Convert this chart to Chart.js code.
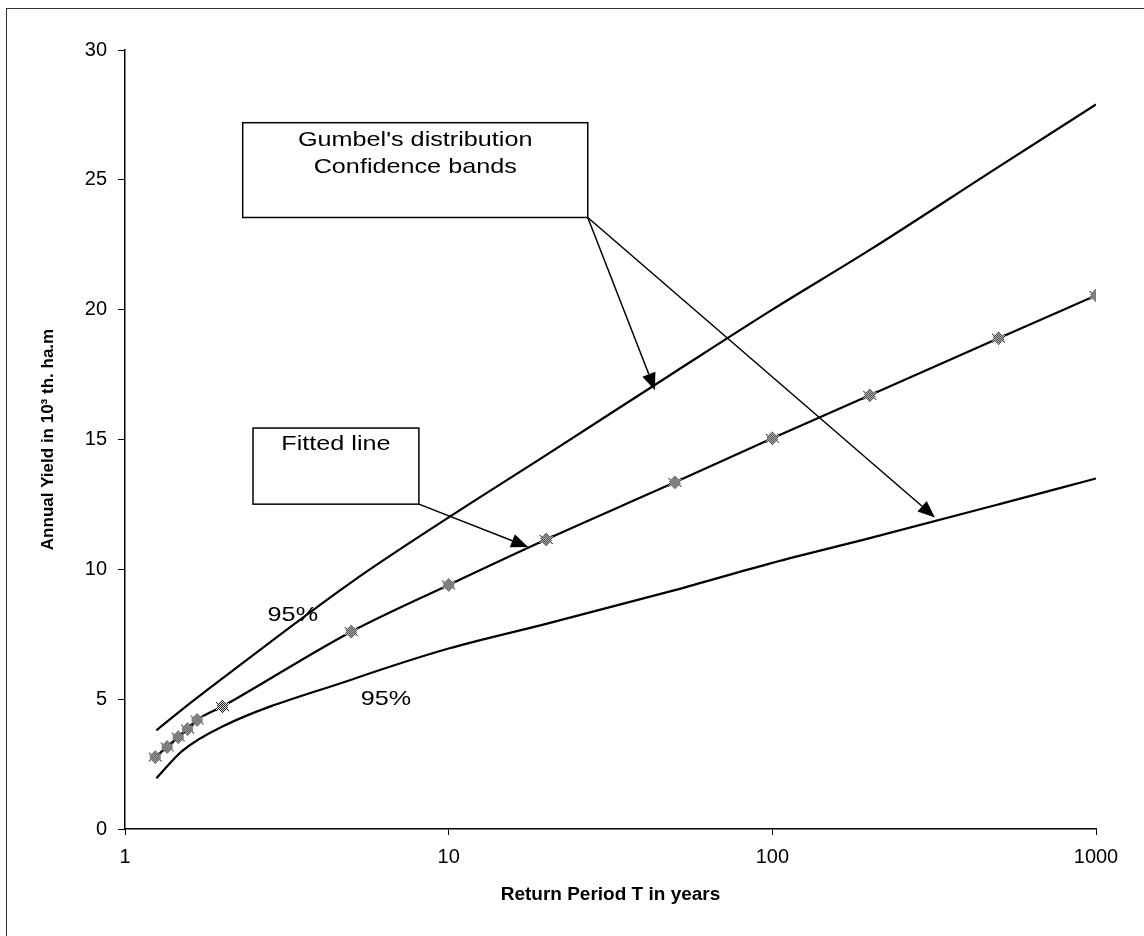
<!DOCTYPE html>
<html>
<head>
<meta charset="utf-8">
<title>Gumbel's distribution</title>
<script src="https://cdn.jsdelivr.net/npm/chart.js@4.4.1/dist/chart.umd.min.js"></script>
<style>
	html, body { margin: 0; padding: 0; background: #fff; }
	#wrap { position: relative; width: 1144px; height: 936px; }
	#frame {
		position: absolute; left: 6px; top: 8px; right: 0; bottom: 0;
		border-left: 1px solid #333; border-top: 1px solid #333;
		pointer-events: none;
	}
</style>
</head>
<body>
<div id="wrap">
	<canvas id="yieldChart"></canvas>
	<div id="frame"></div>
</div>
<script>
// Return periods (years) and annual yield values
const returnPeriods = [1.24, 1.35, 1.46, 1.56, 1.67, 2, 5, 10, 20, 50, 100, 200, 500, 1000];
const fittedYield = [2.77, 3.16, 3.54, 3.85, 4.2, 4.72, 7.6, 9.4, 11.15, 13.35, 15.05, 16.7, 18.9, 20.55];

const bandPeriods = [1.25, 1.5, 2, 5, 10, 20, 50, 100, 200, 500, 1000];
const upperBand = [3.8, 4.6, 5.8, 9.5, 12.0, 14.4, 17.6, 20.0, 22.3, 25.5, 27.9];
const lowerBand = [1.95, 3.0, 3.95, 5.75, 6.95, 7.9, 9.2, 10.25, 11.2, 12.5, 13.5];

const xTicks = [1, 10, 100, 1000];
const yTicks = [0, 5, 10, 15, 20, 25, 30];

const FONT = '"Liberation Sans", Arial, sans-serif';

class YieldChartPage {
	constructor() {
		this.canvas = document.getElementById('yieldChart');
		this.init();
	}

	init() {
		this.marker = this.createMarker();
		new Chart(this.canvas.getContext('2d'), this.buildConfig());
	}

	// Dithered grey star like the scanned marker
	createMarker() {
		const size = 17;
		const mid = size / 2;
		const c = document.createElement('canvas');
		c.width = size;
		c.height = size;
		const g = c.getContext('2d');
		g.beginPath();
		for (let i = 0; i < 12; i++) {
			const a = -Math.PI / 2 + i * Math.PI / 6;
			const r = i % 2 === 0 ? 8.2 : 4.4;
			g.lineTo(mid + r * Math.cos(a), mid + r * Math.sin(a));
		}
		g.closePath();
		g.fillStyle = '#000';
		g.fill();
		const img = g.getImageData(0, 0, size, size);
		for (let py = 0; py < size; py++) {
			for (let px = 0; px < size; px++) {
				const k = (py * size + px) * 4;
				if (img.data[k + 3] < 110) {
					img.data[k + 3] = 0;
					continue;
				}
				const on = (px + py) % 2 === 0;
				img.data[k] = img.data[k + 1] = img.data[k + 2] = on ? 0 : 255;
				img.data[k + 3] = 255;
			}
		}
		g.putImageData(img, 0, 0);
		return c;
	}

	buildConfig() {
		const toPoints = (xs, ys) => xs.map((t, i) => ({ x: t, y: ys[i] }));

		const lineBase = {
			borderColor: '#000',
			borderWidth: 2.2,
			fill: false,
			cubicInterpolationMode: 'monotone',
			pointRadius: 0
		};

		return {
			type: 'line',
			data: {
				datasets: [
					{ ...lineBase, label: 'Upper 95%', data: toPoints(bandPeriods, upperBand) },
					{ ...lineBase, label: 'Lower 95%', data: toPoints(bandPeriods, lowerBand) },
					{
						...lineBase,
						label: 'Fitted line',
						data: toPoints(returnPeriods, fittedYield),
						pointStyle: this.marker,
						pointRadius: 8
					}
				]
			},
			options: {
				responsive: true,
				maintainAspectRatio: false,
				animation: false,
				layout: { padding: { left: 0, top: 50, right: 48, bottom: 0 } },
				plugins: {
					legend: { display: false },
					tooltip: { enabled: false }
				},
				scales: {
					x: {
						type: 'logarithmic',
						min: 1,
						max: 1000,
						afterBuildTicks: (scale) => {
							scale.ticks = xTicks.map(v => ({ value: v }));
						},
						afterFit: (scale) => { scale.height = 107; },
						grid: { drawOnChartArea: false, drawTicks: true, tickLength: 6, color: '#000' },
						border: { display: true, color: '#000', width: 1.5 },
						ticks: {
							autoSkip: false,
							maxRotation: 0,
							padding: 10,
							color: '#000',
							font: { family: FONT, size: 20 },
							callback: (v) => String(v)
						},
						title: {
							display: true,
							text: 'Return Period T in years',
							color: '#000',
							font: { family: FONT, size: 19, weight: 'bold' },
							padding: { top: 0, bottom: 30 }
						}
					},
					y: {
						min: 0,
						max: 30,
						afterBuildTicks: (scale) => {
							scale.ticks = yTicks.map(v => ({ value: v }));
						},
						afterFit: (scale) => { scale.width = 125; },
						grid: { drawOnChartArea: false, drawTicks: true, tickLength: 7, color: '#000' },
						border: { display: true, color: '#000', width: 1.5 },
						ticks: {
							padding: 11,
							color: '#000',
							font: { family: FONT, size: 20 }
						},
						title: {
							display: true,
							text: 'Annual Yield in 10³ th. ha.m',
							color: '#000',
							font: { family: FONT, size: 17, weight: 'bold' },
							padding: { top: 38, bottom: 0 }
						}
					}
				}
			},
			plugins: [annotationPlugin]
		};
	}
}

// Callout boxes, arrows and labels (positions in data units)
const calloutBoxes = [
	{ from: [2.31, 27.2], to: [26.9, 23.55], lines: ["Gumbel's distribution", 'Confidence bands'], firstLine: 17 },
	{ from: [2.486, 15.44], to: [8.09, 12.51], lines: ['Fitted line'], firstLine: 16 }
];
const calloutArrows = [
	{ from: [26.9, 23.55], to: [43.4, 16.9] },
	{ from: [26.9, 23.55], to: [318, 12.0] },
	{ from: [8.09, 12.51], to: [17.6, 10.86] }
];
const bandLabels = [
	{ at: [3.30, 8.24], text: '95%' },
	{ at: [6.40, 5.0], text: '95%' }
];

function drawStretchedText(ctx, text, cx, cy) {
	ctx.save();
	ctx.translate(cx, cy);
	ctx.scale(1.2, 1);
	ctx.fillText(text, 0, 0);
	ctx.restore();
}

const annotationPlugin = {
	id: 'callouts',
	afterDatasetsDraw(chart) {
		const { ctx, scales } = chart;
		const px = (p) => [scales.x.getPixelForValue(p[0]), scales.y.getPixelForValue(p[1])];

		ctx.save();
		ctx.strokeStyle = '#000';
		ctx.fillStyle = '#000';
		ctx.lineWidth = 1.5;
		ctx.font = '21px ' + FONT;
		ctx.textAlign = 'center';
		ctx.textBaseline = 'middle';

		calloutBoxes.forEach(box => {
			const [x1, y1] = px(box.from);
			const [x2, y2] = px(box.to);
			ctx.fillStyle = '#fff';
			ctx.fillRect(x1, y1, x2 - x1, y2 - y1);
			ctx.strokeRect(x1, y1, x2 - x1, y2 - y1);
			ctx.fillStyle = '#000';
			box.lines.forEach((line, i) => {
				drawStretchedText(ctx, line, (x1 + x2) / 2, y1 + box.firstLine + i * 27);
			});
		});

		calloutArrows.forEach(arrow => {
			const [x1, y1] = px(arrow.from);
			const [x2, y2] = px(arrow.to);
			const ang = Math.atan2(y2 - y1, x2 - x1);
			const len = 17, half = 7;
			const bx = x2 - len * Math.cos(ang);
			const by = y2 - len * Math.sin(ang);
			ctx.beginPath();
			ctx.moveTo(x1, y1);
			ctx.lineTo(bx, by);
			ctx.stroke();
			ctx.beginPath();
			ctx.moveTo(x2, y2);
			ctx.lineTo(bx + half * Math.sin(ang), by - half * Math.cos(ang));
			ctx.lineTo(bx - half * Math.sin(ang), by + half * Math.cos(ang));
			ctx.closePath();
			ctx.fill();
		});

		bandLabels.forEach(label => {
			const [x, y] = px(label.at);
			drawStretchedText(ctx, label.text, x, y);
		});

		ctx.restore();
	}
};

const page = new YieldChartPage();
</script>
</body>
</html>
